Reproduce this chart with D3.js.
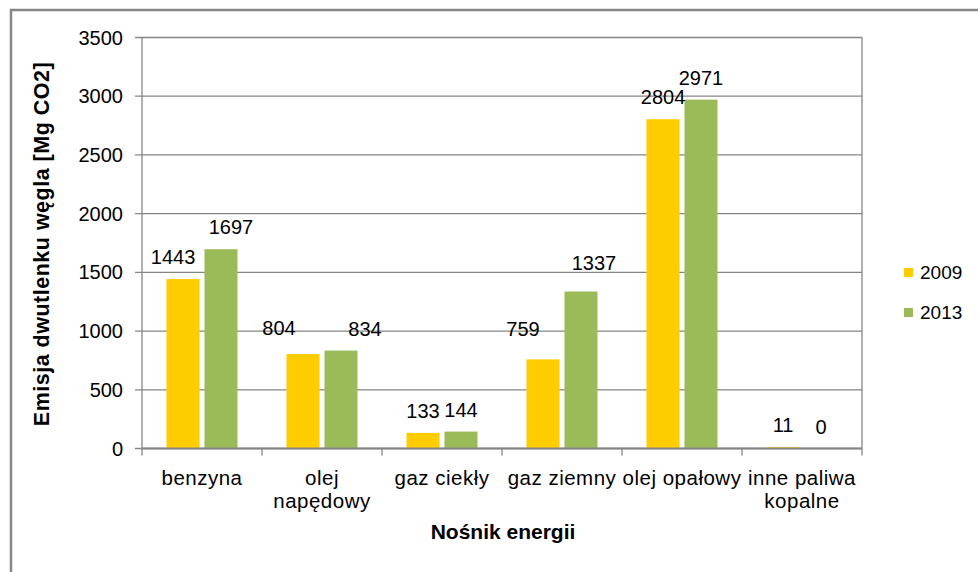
<!DOCTYPE html>
<html>
<head>
<meta charset="utf-8">
<script src="https://cdnjs.cloudflare.com/ajax/libs/d3/7.8.5/d3.min.js"></script>
<style>
    body { margin: 0; background: #ffffff; }
    text { font-family: "Liberation Sans", Arial, sans-serif; fill: #000000; }
</style>
</head>
<body>
<svg id="chart" width="978" height="572"></svg>
<script>
// dane z wykresu
var categories = [["benzyna"], ["olej", "napędowy"], ["gaz ciekły"], ["gaz ziemny"], ["olej opałowy"], ["inne paliwa", "kopalne"]];
var seriesNames = ["2009", "2013"];
var values2009 = [1443, 804, 133, 759, 2804, 11];
var values2013 = [1697, 834, 144, 1337, 2971, 0];
var yTicks = [0, 500, 1000, 1500, 2000, 2500, 3000, 3500];

var colors = ["#ffcc00", "#9bbb59"];

var svg = d3.select("#chart");
var plot = {left: 142, right: 862, top: 37.5, bottom: 448.5};

// ramka wykresu
svg.append("path")
    .attr("d", "M11,580 L11,10 L990,10")
    .attr("fill", "none")
    .attr("stroke", "#868686")
    .attr("stroke-width", 2.5);

var x0 = d3.scaleBand()
    .domain(d3.range(categories.length))
    .range([plot.left, plot.right]);

var x1 = d3.scaleBand()
    .domain(d3.range(seriesNames.length))
    .range([24.5, 95.5])
    .paddingInner(0.13);

var y = d3.scaleLinear()
    .domain([0, 3500])
    .range([plot.bottom, plot.top]);

// siatka
svg.append("g")
    .selectAll("line")
    .data(yTicks)
    .enter()
    .append("line")
    .attr("x1", plot.left - 7)
    .attr("x2", plot.right)
    .attr("y1", function (d) { return y(d); })
    .attr("y2", function (d) { return y(d); })
    .attr("stroke", "#868686")
    .attr("stroke-width", 1.3);

svg.append("g")
    .selectAll("text")
    .data(yTicks)
    .enter()
    .append("text")
    .attr("x", 123)
    .attr("y", function (d) { return y(d) + 7; })
    .attr("text-anchor", "end")
    .style("font-size", "20px")
    .text(function (d) { return d; });

// slupki
var series = [values2009, values2013];
series.forEach(function (vals, s) {
    svg.append("g")
        .selectAll("rect")
        .data(vals)
        .enter()
        .append("rect")
        .attr("x", function (d, i) { return x0(i) + x1(s); })
        .attr("y", function (d) { return y(d); })
        .attr("width", x1.bandwidth())
        .attr("height", function (d) { return plot.bottom - y(d); })
        .attr("fill", colors[s]);
});

// osie
svg.append("line")
    .attr("x1", plot.left).attr("x2", plot.left)
    .attr("y1", plot.top).attr("y2", plot.bottom)
    .attr("stroke", "#868686").attr("stroke-width", 1.3);
svg.append("line")
    .attr("x1", plot.right).attr("x2", plot.right)
    .attr("y1", plot.top).attr("y2", plot.bottom + 7)
    .attr("stroke", "#868686").attr("stroke-width", 1.3);
svg.append("line")
    .attr("x1", plot.left).attr("x2", plot.right)
    .attr("y1", plot.bottom).attr("y2", plot.bottom)
    .attr("stroke", "#868686").attr("stroke-width", 2);

svg.append("g")
    .selectAll("line")
    .data(d3.range(categories.length))
    .enter()
    .append("line")
    .attr("x1", function (i) { return x0(i); })
    .attr("x2", function (i) { return x0(i); })
    .attr("y1", plot.bottom)
    .attr("y2", plot.bottom + 7)
    .attr("stroke", "#868686")
    .attr("stroke-width", 1.3);

// etykiety kategorii
var catLabels = svg.append("g")
    .selectAll("text")
    .data(categories)
    .enter()
    .append("text")
    .attr("x", function (d, i) { return x0(i) + x0.bandwidth() / 2; })
    .attr("y", 485)
    .attr("text-anchor", "middle")
    .style("font-size", "20.5px")
    .style("letter-spacing", "0.5px");
catLabels.selectAll("tspan")
    .data(function (d) { return d; })
    .enter()
    .append("tspan")
    .attr("x", function () { return d3.select(this.parentNode).attr("x"); })
    .attr("dy", function (d, j) { return j ? 23 : 0; })
    .text(function (d) { return d; });

// etykiety danych (przesuniete recznie jak w oryginale)
var labelShift = [
    [[-10, 0], [-24, -4], [0, 0], [-20, -8], [0, 0], [0, 0]],
    [[10, 0], [24, 0], [0, 0], [13, -6], [0, 0], [0, 0]]
];
series.forEach(function (vals, s) {
    svg.append("g")
        .selectAll("text")
        .data(vals)
        .enter()
        .append("text")
        .attr("x", function (d, i) { return x0(i) + x1(s) + x1.bandwidth() / 2 + labelShift[s][i][0]; })
        .attr("y", function (d, i) { return y(d) - 15 + labelShift[s][i][1]; })
        .attr("text-anchor", "middle")
        .style("font-size", "20px")
        .text(function (d) { return d; });
});

// tytuly osi
svg.append("text")
    .attr("transform", "translate(49," + 244 + ") rotate(-90)")
    .attr("text-anchor", "middle")
    .style("font-size", "21.5px")
    .style("font-weight", "bold")
    .style("letter-spacing", "0.5px")
    .text("Emisja dwutlenku węgla [Mg CO2]");

svg.append("text")
    .attr("x", 503)
    .attr("y", 539)
    .attr("text-anchor", "middle")
    .style("font-size", "21px")
    .style("font-weight", "bold")
    .text("Nośnik energii");

// legenda
var legend = svg.append("g")
    .selectAll("g")
    .data(seriesNames)
    .enter()
    .append("g")
    .attr("transform", function (d, i) { return "translate(904," + (268 + i * 40) + ")"; });
legend.append("rect")
    .attr("width", 9)
    .attr("height", 9)
    .attr("fill", function (d, i) { return colors[i]; });
legend.append("text")
    .attr("x", 16)
    .attr("y", 11)
    .style("font-size", "19px")
    .text(function (d) { return d; });
</script>
</body>
</html>
